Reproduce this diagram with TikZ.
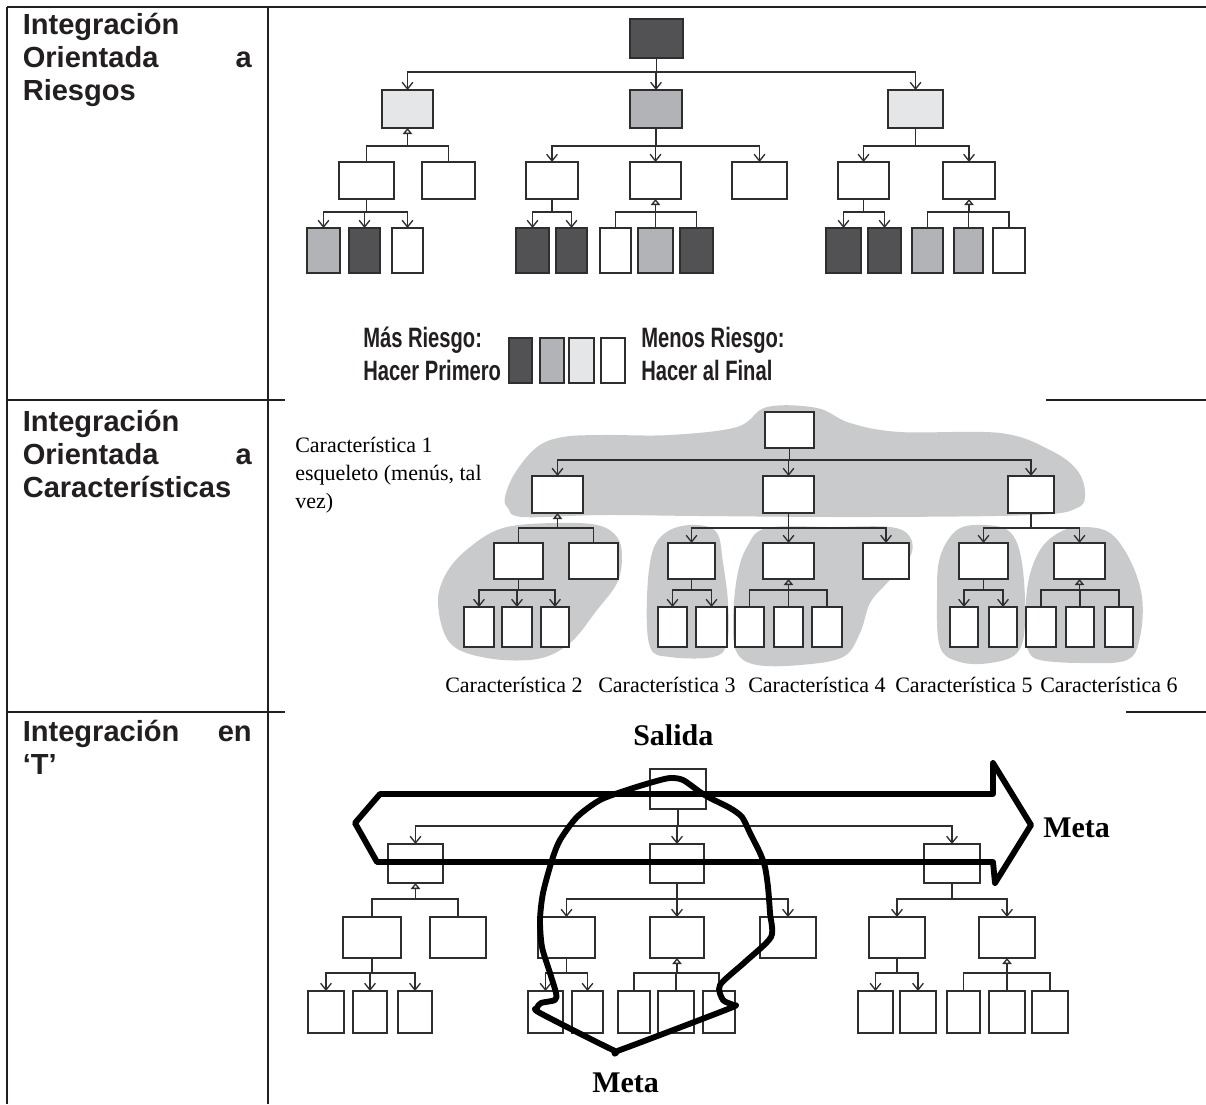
\documentclass[tikz,border=0pt]{standalone}
\usepackage{fontspec}
\setmainfont{Liberation Serif}
\newfontfamily\headfont{Liberation Sans}
\newfontfamily\condfont[FakeStretch=0.72]{Liberation Sans}
\usetikzlibrary{arrows.meta}

\definecolor{ink}{HTML}{231F20}
\definecolor{riskDark}{HTML}{525254}
\definecolor{riskMid}{HTML}{B2B3B6}
\definecolor{riskLight}{HTML}{E5E6E7}
\definecolor{lineGray}{HTML}{2E2E2E}
\definecolor{blobGray}{HTML}{C9CACC}

% box from its corners (in pixel units): name, x1, y1, x2, y2, fill
\newcommand\mkbox[6]{%
  \node[rbox,fill=#6,minimum width={(#4-#2)*0.75pt},minimum height={(#5-#3)*0.75pt}]
    (#1) at ({(#2+#4)/2},{(#3+#5)/2}) {};}

\begin{document}
\begin{tikzpicture}[x=0.75pt,y=-0.75pt,
  rule/.style={draw=ink,line width=1pt},
  rbox/.style={draw=lineGray,line width=1.15pt,inner sep=0pt,outer sep=0pt},
  conn/.style={draw=lineGray,line width=1pt},
  arr/.style={conn,-{Straight Barb[length=5pt,width=8pt]}},
  gen/.style={conn,{Triangle[open,length=4.5pt,width=7pt]}-},
  lbl/.style={inner sep=0pt,anchor=base west},
  colhead/.style={lbl,text=ink,font=\headfont\bfseries\fontsize{21.8}{25}\selectfont},
  colheadR/.style={colhead,anchor=base east},
  legend/.style={lbl,text=ink,font=\condfont\bfseries\fontsize{21}{25}\selectfont},
  feat/.style={lbl,font=\fontsize{16.5}{20}\selectfont},
  tlabel/.style={lbl,font=\bfseries\fontsize{22.5}{26}\selectfont},
  blob/.style={fill=blobGray},
  bigline/.style={draw=black,line width=4.4pt,line join=round,line cap=round}]

\useasboundingbox (0,0) rectangle (1206,1104);
\fill[white] (0,0) rectangle (1206,1104);

% ---------- table rules ----------
\draw[rule] (7,7) -- (1206,7);
\draw[rule,line width=1.6pt] (1046,7) -- (1206,7);
\draw[rule] (7,400) -- (285,400);
\draw[rule] (1046,400) -- (1206,400);
\draw[rule,line width=1.6pt] (1193,400) -- (1206,400);
\draw[rule] (7,712) -- (285,712);
\draw[rule] (1126,712) -- (1206,712);
\draw[rule,line width=1.6pt] (1193,712) -- (1206,712);
\draw[rule,line width=1.3pt] (7,7) -- (7,1104);
\draw[rule,line width=1.3pt] (268,7) -- (268,1104);

% ---------- left column ----------
\node[colhead]  (h1a) at (22.5,34)  {Integración};
\node[colhead]  (h1b) at (22.5,67)  {Orientada};
\node[colheadR] (h1c) at (252,67)   {a};
\node[colhead]  (h1d) at (22.5,100) {Riesgos};

\node[colhead]  (h2a) at (22.5,431) {Integración};
\node[colhead]  (h2b) at (22.5,464) {Orientada};
\node[colheadR] (h2c) at (252,464)  {a};
\node[colhead]  (h2d) at (22.5,497) {Características};

\node[colhead]  (h3a) at (22.5,741) {Integración};
\node[colheadR] (h3b) at (252,741)  {en};
\node[colhead]  (h3c) at (22.5,774) {‘T’};

% ---------- risk-driven tree ----------
\mkbox{rT}{630}{19}{683}{58}{riskDark}
\mkbox{rL}{382}{90}{433}{128}{riskLight}
\mkbox{rM}{630}{90}{682}{128}{riskMid}
\mkbox{rR}{888}{90}{943}{128}{riskLight}
\mkbox{rLa}{339}{162}{394}{199}{white}
\mkbox{rLb}{422}{162}{475}{199}{white}
\mkbox{rMa}{526}{162}{578}{199}{white}
\mkbox{rMb}{630}{162}{681}{199}{white}
\mkbox{rMc}{732}{162}{787}{199}{white}
\mkbox{rRa}{838}{162}{889}{199}{white}
\mkbox{rRb}{943}{162}{995}{199}{white}
\mkbox{rLa1}{307}{228}{340}{273}{riskMid}
\mkbox{rLa2}{349}{228}{380}{273}{riskDark}
\mkbox{rLa3}{392}{228}{423}{273}{white}
\mkbox{rMa1}{516}{228}{549}{273}{riskDark}
\mkbox{rMa2}{556}{228}{587}{273}{riskDark}
\mkbox{rMb1}{600}{228}{631}{273}{white}
\mkbox{rMb2}{638}{228}{673}{273}{riskMid}
\mkbox{rMb3}{680}{228}{713}{273}{riskDark}
\mkbox{rRa1}{826}{228}{861}{273}{riskDark}
\mkbox{rRa2}{868}{228}{901}{273}{riskDark}
\mkbox{rRb1}{912}{228}{943}{273}{riskMid}
\mkbox{rRb2}{954}{228}{983}{273}{riskMid}
\mkbox{rRb3}{993}{228}{1025}{273}{white}

\foreach \c in {rL,rM,rR} \draw[arr] (rT.south) -- ++(0,14) -| (\c.north);
\draw[gen] (rL.south) -- ++(0,18) coordinate (rLbar);
\foreach \c in {rLa,rLb} \draw[conn] (rLbar) -| (\c.north);
\foreach \c in {rMa,rMb,rMc} \draw[arr] (rM.south) -- ++(0,18) -| (\c.north);
\foreach \c in {rRa,rRb} \draw[arr] (rR.south) -- ++(0,18) -| (\c.north);
\foreach \c in {rLa1,rLa2,rLa3} \draw[arr] (rLa.south) -- ++(0,13) -| (\c.north);
\foreach \c in {rMa1,rMa2} \draw[arr] (rMa.south) -- ++(0,13) -| (\c.north);
\draw[gen] (rMb.south) -- ++(0,13) coordinate (rMbbar);
\foreach \c in {rMb1,rMb2,rMb3} \draw[conn] (rMbbar) -| (\c.north);
\foreach \c in {rRa1,rRa2} \draw[arr] (rRa.south) -- ++(0,13) -| (\c.north);
\draw[gen] (rRb.south) -- ++(0,13) coordinate (rRbbar);
\foreach \c in {rRb1,rRb2,rRb3} \draw[conn] (rRbbar) -| (\c.north);

% legend
\node[legend] (lgA) at (363,347) {Más Riesgo:};
\node[legend] (lgB) at (363,380) {Hacer Primero};
\mkbox{lg1}{509}{338}{532}{383}{riskDark}
\mkbox{lg2}{540}{338}{564}{383}{riskMid}
\mkbox{lg3}{569}{338}{594}{383}{riskLight}
\mkbox{lg4}{601}{338}{625}{383}{white}
\node[legend] (lgC) at (641,347) {Menos Riesgo:};
\node[legend] (lgD) at (641,380) {Hacer al Final};

% ---------- feature-driven tree ----------
% feature groups
\fill[blob] plot[smooth cycle,tension=0.6] coordinates {
  (505,497) (515,473) (537,447) (563,437) (603,435) (670,435) (737,427)
  (767,407) (817,408) (850,423) (900,432) (1000,433) (1050,450) (1077,470)
  (1085,493) (1077,508) (1033,515) (867,517) (700,516) (603,515) (523,517) (508,508)};
\fill[blob] plot[smooth cycle,tension=0.6] coordinates {
  (438,603) (447,572) (470,547) (503,528) (553,523) (597,525) (617,537)
  (622,557) (617,583) (597,610) (570,643) (537,659) (487,658) (450,643)};
\fill[blob] plot[smooth cycle,tension=0.6] coordinates {
  (647,597) (653,550) (670,530) (697,525) (717,533) (723,563) (728,603)
  (727,643) (713,657) (670,657) (650,647)};
\fill[blob] plot[smooth cycle,tension=0.6] coordinates {
  (733,623) (737,577) (747,547) (767,528) (833,527) (890,527) (910,537)
  (910,557) (887,583) (870,603) (860,633) (843,657) (800,665) (757,665) (737,653)};
\fill[blob] plot[smooth cycle,tension=0.6] coordinates {
  (937,597) (940,557) (957,530) (983,525) (1010,532) (1022,563) (1025,623)
  (1017,653) (990,663) (960,662) (940,647)};
\fill[blob] plot[smooth cycle,tension=0.6] coordinates {
  (1025,630) (1028,583) (1040,550) (1060,532) (1083,527) (1110,533) (1130,560)
  (1142,597) (1140,637) (1127,660) (1083,663) (1040,660) (1028,650)};

\mkbox{fT}{765}{412}{814}{448}{white}
\mkbox{fL}{532}{476}{583}{513}{white}
\mkbox{fM}{763}{476}{814}{513}{white}
\mkbox{fR}{1008}{476}{1054}{513}{white}
\mkbox{fLa}{494}{543}{543}{579}{white}
\mkbox{fLb}{569}{543}{618}{579}{white}
\mkbox{fMa}{668}{543}{715}{579}{white}
\mkbox{fMb}{763}{543}{814}{579}{white}
\mkbox{fMc}{863}{543}{909}{579}{white}
\mkbox{fRa}{959}{543}{1008}{579}{white}
\mkbox{fRb}{1054}{543}{1105}{579}{white}
\mkbox{fLa1}{464}{607}{494}{647}{white}
\mkbox{fLa2}{502}{607}{532}{647}{white}
\mkbox{fLa3}{541}{607}{569}{647}{white}
\mkbox{fMa1}{658}{607}{687}{647}{white}
\mkbox{fMa2}{696}{607}{727}{647}{white}
\mkbox{fMb1}{735}{607}{764}{647}{white}
\mkbox{fMb2}{774}{607}{803}{647}{white}
\mkbox{fMb3}{812}{607}{842}{647}{white}
\mkbox{fRa1}{950}{607}{978}{647}{white}
\mkbox{fRa2}{989}{607}{1017}{647}{white}
\mkbox{fRb1}{1026}{607}{1056}{647}{white}
\mkbox{fRb2}{1066}{607}{1094}{647}{white}
\mkbox{fRb3}{1105}{607}{1133}{647}{white}

\foreach \c in {fL,fM,fR} \draw[arr] (fT.south) -- ++(0,12) -| (\c.north);
\draw[gen] (fL.south) -- ++(0,15) coordinate (fLbar);
\foreach \c in {fLa,fLb} \draw[conn] (fLbar) -| (\c.north);
\foreach \c in {fMa,fMb,fMc} \draw[arr] (fM.south) -- ++(0,15) -| (\c.north);
\foreach \c in {fRa,fRb} \draw[arr] (fR.south) -- ++(0,15) -| (\c.north);
\foreach \c in {fLa1,fLa2,fLa3} \draw[arr] (fLa.south) -- ++(0,11) -| (\c.north);
\foreach \c in {fMa1,fMa2} \draw[arr] (fMa.south) -- ++(0,11) -| (\c.north);
\draw[gen] (fMb.south) -- ++(0,11) coordinate (fMbbar);
\foreach \c in {fMb1,fMb2,fMb3} \draw[conn] (fMbbar) -| (\c.north);
\foreach \c in {fRa1,fRa2} \draw[arr] (fRa.south) -- ++(0,11) -| (\c.north);
\draw[gen] (fRb.south) -- ++(0,11) coordinate (fRbbar);
\foreach \c in {fRb1,fRb2,fRb3} \draw[conn] (fRbbar) -| (\c.north);

\node[feat] (f1a) at (295,452) {Característica 1};
\node[feat] (f1b) at (295,480) {esqueleto (menús, tal};
\node[feat] (f1c) at (295,508) {vez)};
\node[feat] (f2) at (445,692) {Característica 2};
\node[feat] (f3) at (598,692) {Característica 3};
\node[feat] (f4) at (748,692) {Característica 4};
\node[feat] (f5) at (895,692) {Característica 5};
\node[feat] (f6) at (1040,692) {Característica 6};

% ---------- T-shaped tree ----------
\mkbox{tT}{650}{769}{706}{809}{white}
\mkbox{tL}{388}{844}{443}{883}{white}
\mkbox{tM}{650}{844}{704}{883}{white}
\mkbox{tR}{924}{844}{980}{883}{white}
\mkbox{tLa}{343}{917}{401}{958}{white}
\mkbox{tLb}{430}{917}{486}{958}{white}
\mkbox{tMa}{538}{917}{595}{958}{white}
\mkbox{tMb}{650}{917}{704}{958}{white}
\mkbox{tMc}{760}{917}{816}{958}{white}
\mkbox{tRa}{869}{917}{925}{958}{white}
\mkbox{tRb}{979}{917}{1035}{958}{white}
\mkbox{tLa1}{308}{991}{344}{1033}{white}
\mkbox{tLa2}{353}{991}{387}{1033}{white}
\mkbox{tLa3}{398}{991}{432}{1033}{white}
\mkbox{tMa1}{528}{991}{563}{1033}{white}
\mkbox{tMa2}{572}{991}{603}{1033}{white}
\mkbox{tMb1}{618}{991}{650}{1033}{white}
\mkbox{tMb2}{658}{991}{694}{1033}{white}
\mkbox{tMb3}{703}{991}{735}{1033}{white}
\mkbox{tRa1}{858}{991}{893}{1033}{white}
\mkbox{tRa2}{900}{991}{936}{1033}{white}
\mkbox{tRb1}{947}{991}{980}{1033}{white}
\mkbox{tRb2}{989}{991}{1025}{1033}{white}
\mkbox{tRb3}{1032}{991}{1068}{1033}{white}

\foreach \c in {tL,tM,tR} \draw[arr] (tT.south) -- ++(0,17) -| (\c.north);
\draw[gen] (tL.south) -- ++(0,16) coordinate (tLbar);
\foreach \c in {tLa,tLb} \draw[conn] (tLbar) -| (\c.north);
\foreach \c in {tMa,tMb,tMc} \draw[arr] (tM.south) -- ++(0,16) -| (\c.north);
\foreach \c in {tRa,tRb} \draw[arr] (tR.south) -- ++(0,16) -| (\c.north);
\foreach \c in {tLa1,tLa2,tLa3} \draw[arr] (tLa.south) -- ++(0,15) -| (\c.north);
\foreach \c in {tMa1,tMa2} \draw[arr] (tMa.south) -- ++(0,15) -| (\c.north);
\draw[gen] (tMb.south) -- ++(0,15) coordinate (tMbbar);
\foreach \c in {tMb1,tMb2,tMb3} \draw[conn] (tMbbar) -| (\c.north);
\foreach \c in {tRa1,tRa2} \draw[arr] (tRa.south) -- ++(0,15) -| (\c.north);
\draw[gen] (tRb.south) -- ++(0,15) coordinate (tRbbar);
\foreach \c in {tRb1,tRb2,tRb3} \draw[conn] (tRbbar) -| (\c.north);

% horizontal sweep: hollow block arrow
\draw[bigline] (380,794) -- (993,794) -- (993,763) -- (1031,825) -- (995,883)
  -- (993,862) -- (377,862) -- (355,823) -- cycle;

% vertical sweep: hand-drawn loop
\draw[bigline] plot[smooth cycle,tension=0.45] coordinates {
  (670,778) (683,780) (700,792) (710,798) (730,808) (742,817) (750,833)
  (760,853) (765,867) (768,887) (770,913) (771,937) (745,962) (720,985)
  (723,1000) (733,1005) (728,1009) (620,1050) (613,1050) (540,1013) (537,1008)
  (541,1003) (555,1000) (556,993) (550,973) (542,947) (540,920) (543,893)
  (552,860) (560,840) (577,817) (600,800) (627,790) (653,782)};

\node[tlabel] (salida) at (633,745) {Salida};
\node[tlabel] (metaR) at (1043,837) {Meta};
\node[tlabel] (metaB) at (592,1092) {Meta};

\end{tikzpicture}
\end{document}
